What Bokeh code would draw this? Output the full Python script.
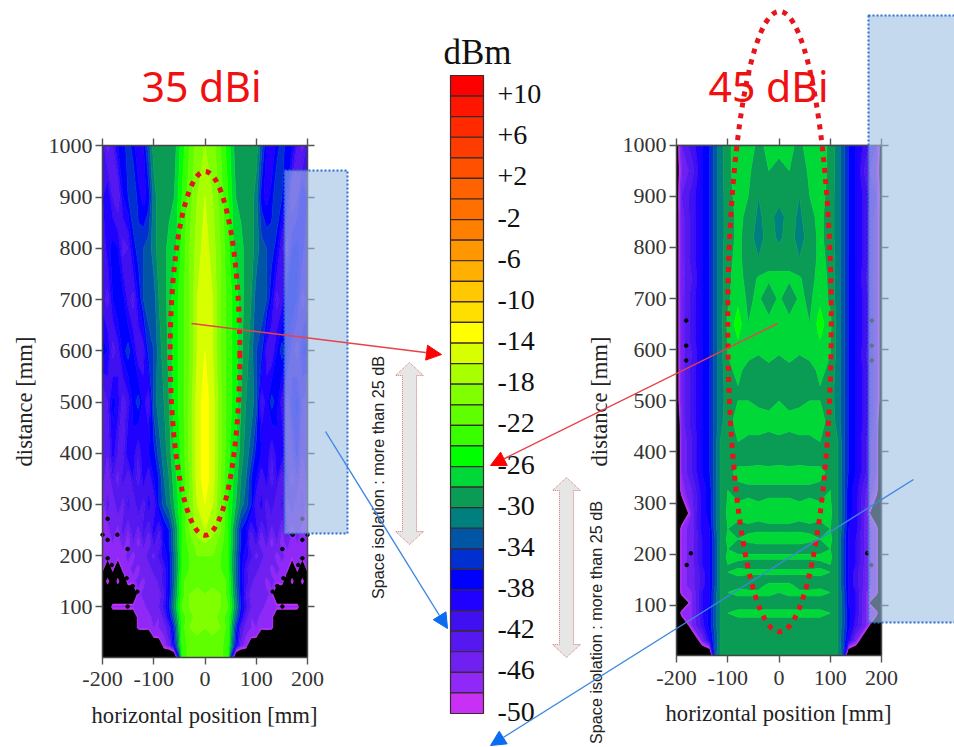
import numpy as np
from bokeh.core.properties import value
from bokeh.embed import file_html
from bokeh.models import (Arrow, ColumnDataSource, FixedTicker, LinearAxis, NormalHead, Range1d)
from bokeh.plotting import figure
from bokeh.plotting.contour import contour_data
from bokeh.resources import INLINE

# ---------- data ----------
level_edges = list(range(12, -52, -2))          # dBm, top to bottom of the colour bar
cell_colors = ["#ff0000", "#ff1600", "#ff2a00", "#ff3c00", "#ff5000", "#ff6200", "#ff7000", "#ff8000",
               "#ff9800", "#ffb000", "#ffc800", "#ffdf00", "#ffff00", "#d8ff00", "#a8ff00", "#80ff00",
               "#60ff00", "#38ff00", "#00ff00", "#00d838", "#0a9c55", "#007f7f", "#0055a5", "#0030d0",
               "#0000ff", "#2000ff", "#4010f0", "#5518f0", "#7020f0", "#9028f8", "#c830f5"]
bar_labels = ["+10", "+6", "+2", "-2", "-6", "-10", "-14", "-18", "-22", "-26", "-30", "-34", "-38", "-42", "-46", "-50"]
bar_label_levels = [10, 6, 2, -2, -6, -10, -14, -18, -22, -26, -30, -34, -38, -42, -46, -50]

x_ticks = [-200, -100, 0, 100, 200]
x_tick_labels = {-200: "-200", -100: "-100", 0: "0", 100: "100", 200: "200"}
y_ticks = [100, 200, 300, 400, 500, 600, 700, 800, 900, 1000]

left_x_half = [0, 15, 30, 45, 60, 70, 80, 90, 100, 110, 120, 130, 140, 150, 160, 170, 180, 190, 200]
left_y = [2, 25, 45, 60, 80, 100, 125, 150, 175, 200, 225, 250, 300, 350, 400, 500, 600, 700, 800, 900, 1000]
left_z = [
    [-20, -20, -21, -24, -60, -60, -60, -60, -60, -60, -60, -60, -60, -60, -60, -60, -60, -60, -60],
    [-21, -20, -21, -24, -37, -45, -47, -60, -60, -60, -60, -60, -60, -60, -60, -60, -60, -60, -60],
    [-20, -20, -21, -23, -36, -43, -46, -46, -47, -60, -60, -60, -60, -60, -60, -60, -60, -60, -60],
    [-20, -19, -20, -23, -35, -42, -45, -46, -46, -47, -46, -47, -60, -60, -60, -60, -60, -60, -60],
    [-19, -19, -21, -23, -32, -38, -43, -46, -45, -47, -46, -47, -60, -60, -60, -60, -60, -60, -60],
    [-20, -19, -20, -22, -30, -36, -41, -44, -46, -45, -47, -46, -47, -47, -47, -47, -47, -60, -60],
    [-20, -19, -20, -23, -31, -37, -42, -45, -44, -46, -45, -47, -60, -60, -60, -60, -60, -60, -60],
    [-20, -21, -20, -23, -32, -37, -41, -43, -46, -44, -47, -45, -47, -46, -60, -47, -60, -47, -60],
    [-21, -21, -22, -24, -32, -37, -41, -44, -42, -46, -44, -47, -45, -47, -46, -60, -47, -60, -47],
    [-20, -20, -22, -24, -32, -37, -39, -41, -45, -42, -46, -44, -47, -45, -47, -46, -47, -46, -47],
    [-18, -19, -21, -24, -31, -36, -38, -44, -41, -46, -43, -47, -44, -47, -45, -47, -46, -47, -46],
    [-16, -17, -20, -24, -31, -36, -38, -42, -39, -44, -41, -45, -42, -46, -43, -47, -44, -47, -46],
    [-14, -16, -20, -24, -28, -31, -33, -36, -42, -39, -43, -40, -44, -41, -45, -42, -46, -43, -47],
    [-13, -15, -20, -24, -27, -30, -32, -36, -38, -42, -39, -43, -40, -44, -41, -45, -42, -46, -43],
    [-13, -15, -19.5, -23.5, -26, -29, -31, -33, -37, -38, -38, -42, -39, -38, -43, -42, -39, -44, -42],
    [-13, -15, -19.5, -23, -25, -28, -30, -31, -33, -42, -39, -35, -37, -41, -43, -39, -37, -42, -44],
    [-14, -16, -20, -23, -25, -27.5, -29, -31, -34, -35, -41, -42, -38, -35, -37, -41, -43, -38, -37],
    [-15, -16, -20, -23, -25, -27, -29, -30, -33, -33, -34, -38, -43, -41, -37, -36, -38, -43, -41],
    [-15, -17, -20, -23.5, -27, -27, -29, -29, -31, -33, -34, -35, -37, -42, -43, -38, -37, -39, -42],
    [-16, -18, -21, -24, -28, -29, -29, -29, -31, -37, -39, -37, -34, -36, -38, -44, -42, -38, -40],
    [-18, -19, -22, -25, -29, -30, -29, -29, -29, -33, -38, -40, -37, -35, -37, -38, -42, -45, -41],
]
left_hole_x = [-190, -200, -190, -171, -151, -190, -182, -172, -163, -153, -141, -190, -179, -167, -154, -132, -151]
left_hole_y = [272, 241, 231, 241, 213, 195, 182, 172, 163, 156, 141, 161, 150, 142, 130, 130, 101]

right_x_half = [0, 20, 40, 60, 80, 100, 115, 125, 135, 150, 170, 190, 200]
right_y = [2, 30, 60, 85, 105, 125, 140, 150, 165, 180, 195, 210, 230, 250, 280, 325, 360, 395, 420, 460,
           500, 530, 560, 590, 620, 650, 700, 740, 780, 820, 860, 900, 950, 1000]
right_z = [
    [-29, -29, -29, -29, -29, -29, -30, -33, -60, -60, -60, -60, -60],
    [-29.5, -29.5, -29.5, -29.5, -29.5, -29.5, -30, -34, -39, -46, -60, -60, -60],
    [-29, -29, -29, -29, -29, -29, -30, -33, -37, -41, -46, -60, -60],
    [-27.5, -27.5, -27.5, -27.5, -27.5, -28, -30, -33, -37, -40, -46, -47, -60],
    [-29, -29, -29, -29, -29, -28.5, -30, -33, -38, -40, -46, -60, -60],
    [-28, -27.5, -27.5, -27.5, -27.5, -28, -30, -33, -38, -40, -46, -47, -60],
    [-27.5, -27.5, -29, -29, -28.5, -28, -30, -34, -38, -41, -45, -47, -60],
    [-29, -29, -29, -29, -28.5, -28.5, -30, -34, -38, -41, -45, -47, -60],
    [-27.5, -27.5, -27.5, -27.5, -27.5, -28, -30, -34, -38, -41, -45, -47, -60],
    [-29, -29, -29, -29, -28.5, -28, -30, -34, -38, -40, -45, -47, -60],
    [-27.5, -27.5, -27.5, -27.5, -27.5, -27.5, -30, -34, -38, -40, -45, -47, -60],
    [-29, -29, -29, -29, -29, -28, -30, -34, -38, -40, -45, -47, -60],
    [-27, -27, -27, -27.5, -28, -27.5, -30, -34, -38, -40, -45, -47, -60],
    [-28.5, -28.5, -28.5, -28.5, -28.5, -28, -30, -33, -38, -39, -45, -47, -60],
    [-27, -27, -27.5, -27, -27.5, -27.5, -30, -33, -37, -39, -45, -60, -60],
    [-28.5, -28.5, -28.5, -28.5, -28.5, -28, -30, -33, -37, -39, -44, -47, -60],
    [-27, -27, -27, -27, -27.5, -28.5, -30, -33, -36, -38, -42, -46, -60],
    [-29.5, -30, -29.5, -30, -29, -29, -30, -33, -36, -38, -42, -46, -60],
    [-28.5, -28.5, -28.5, -28.5, -28, -28.5, -30, -33, -36, -38, -42, -46, -60],
    [-27, -27.5, -27, -27, -27.5, -28.5, -31, -33, -36, -38, -41, -45, -60],
    [-28, -28.5, -28.5, -28, -28, -29, -31, -33, -36, -38, -41, -45, -54],
    [-29.5, -30, -29.5, -30, -28, -29, -31, -33, -36, -38, -41, -45, -54],
    [-29, -28.5, -29, -28.8, -27.5, -28.5, -31, -33, -36, -38, -41, -45, -54],
    [-28, -27.5, -28, -27.5, -27, -28, -31, -33, -36, -38, -42, -45, -54],
    [-26.8, -27, -27.5, -27.5, -26, -28, -31, -33, -36, -38, -41, -45, -54],
    [-26.5, -27, -27, -28, -25, -27.5, -31, -33, -36, -38, -41, -45, -54],
    [-27.5, -30, -27.5, -28.5, -26.5, -28.5, -31, -33, -36, -38, -41, -45, -54],
    [-27.5, -27.5, -27.8, -29, -27, -28.5, -31, -33, -36, -38, -42, -45, -54],
    [-29, -29, -30, -29, -27.5, -28.5, -31, -33, -36, -38, -41, -45, -54],
    [-30.5, -29, -31, -29, -27.5, -29, -31, -33, -36, -38, -41, -45, -54],
    [-31, -29, -30.5, -28.5, -27.5, -29, -31, -33, -36, -38, -41, -45, -54],
    [-29, -29, -30, -28, -27, -29, -31, -33, -36, -38, -41, -44, -54],
    [-28.5, -28, -29.5, -27.5, -27, -28.5, -31, -33, -36, -38, -43, -46, -54],
    [-27.5, -27.5, -28.5, -27, -27, -28.5, -31, -33, -36, -38, -41, -44, -54],
]
right_hole_x = [-181, -181, -181, -180, -172]
right_hole_y = [657, 608, 579, 179, 202]

# ---------- page layout (screen pixels) ----------
PAGE_X = (0, 954)
PAGE_Y = (747, 0)
LEFT_PANEL = dict(x=(102, 307), y=(656.7, 145.3), dx=(-200, 200), dy=(2, 1000))
RIGHT_PANEL = dict(x=(676, 881), y=(655, 144.7), dx=(-200, 200), dy=(2, 1000))


def page_range(lo_val, lo_px, hi_val, hi_px, page):
    k = (hi_val - lo_val) / (hi_px - lo_px)
    return Range1d(lo_val + (page[0] - lo_px) * k, lo_val + (page[1] - lo_px) * k)


p = figure(width=954, height=747, x_range=Range1d(*PAGE_X), y_range=Range1d(*PAGE_Y),
           x_axis_type=None, y_axis_type=None, toolbar_location=None, output_backend="svg",
           min_border=0, outline_line_color=None)
p.grid.visible = False

p.extra_x_ranges["lx"] = page_range(-200, LEFT_PANEL["x"][0], 200, LEFT_PANEL["x"][1], PAGE_X)
p.extra_y_ranges["ly"] = page_range(2, LEFT_PANEL["y"][0], 1000, LEFT_PANEL["y"][1], PAGE_Y)
p.extra_x_ranges["rx"] = page_range(-200, RIGHT_PANEL["x"][0], 200, RIGHT_PANEL["x"][1], PAGE_X)
p.extra_y_ranges["ry"] = page_range(2, RIGHT_PANEL["y"][0], 1000, RIGHT_PANEL["y"][1], PAGE_Y)
p.extra_y_ranges["bar"] = page_range(-50, 713, 12, 75, PAGE_Y)

edges_up = [-70] + sorted(level_edges)
colors_up = ["#000000"] + cell_colors[::-1]
lookup = dict(zip(edges_up[:-1], colors_up))


def draw_map(x_half, y_vals, z_rows, xn, yn):
    half = np.array(z_rows, dtype=float)
    z = np.hstack([half[:, :0:-1], half])
    xh = np.array(x_half, dtype=float)
    x = np.concatenate([-xh[:0:-1], xh])
    cd = contour_data(x, np.array(y_vals, dtype=float), z, edges_up)
    fd = cd.fill_data
    src = ColumnDataSource(dict(xs=list(fd.xs), ys=list(fd.ys),
                                c=[lookup[int(v)] for v in fd.lower_levels]))
    p.multi_polygons("xs", "ys", source=src, fill_color="c", line_color="c", line_width=0.6,
                     x_range_name=xn, y_range_name=yn)


draw_map(left_x_half, left_y, left_z, "lx", "ly")
draw_map(right_x_half, right_y, right_z, "rx", "ry")

for hx, hy, xn, yn in ((left_hole_x, left_hole_y, "lx", "ly"), (right_hole_x, right_hole_y, "rx", "ry")):
    xs = list(hx) + [-v for v in hx]
    ys = list(hy) * 2
    p.scatter(xs, ys, size=3.5, marker="circle", color="black", x_range_name=xn, y_range_name=yn)


def panel_axes(panel, xn, yn):
    common = dict(x_range_name=xn, y_range_name=yn, axis_line_color="#444444", axis_line_width=1.5,
                  major_tick_line_color="#555555", major_tick_line_width=1.4, minor_tick_line_color=None,
                  major_tick_in=0, major_tick_out=7, major_label_text_font="Liberation Serif",
                  major_label_text_font_size="22px")
    dx, dy = panel["dx"], panel["dy"]
    xt, yt = FixedTicker(ticks=x_ticks), FixedTicker(ticks=y_ticks)
    p.add_layout(LinearAxis(ticker=xt, fixed_location=dy[0], bounds=dx, major_label_overrides=x_tick_labels,
                            major_label_standoff=8, major_label_text_color="#333333", **common), "below")
    p.add_layout(LinearAxis(ticker=yt, fixed_location=dx[0], bounds=dy, major_label_standoff=3,
                            major_label_text_color="#333333", **common), "left")
    p.add_layout(LinearAxis(ticker=xt, fixed_location=dy[1], bounds=dx, major_label_text_color=None, **common), "above")
    p.add_layout(LinearAxis(ticker=yt, fixed_location=dx[1], bounds=dy, major_label_text_color=None, **common), "right")


panel_axes(LEFT_PANEL, "lx", "ly")
panel_axes(RIGHT_PANEL, "rx", "ry")

# colour bar
p.quad(left=450, right=483, top=level_edges[:-1], bottom=level_edges[1:], fill_color=cell_colors,
       line_color="#3a2a2a", line_width=1.2, y_range_name="bar")
p.text(x=497, y=bar_label_levels, text=bar_labels, y_range_name="bar", y_offset=-2,
       text_font=value("Liberation Serif"), text_font_size="28px", text_baseline="middle", text_color="#111111")

serif = value("Liberation Serif")
p.text(x=[477], y=[52], text=["dBm"], text_font=serif, text_font_size="35px", text_align="center",
       text_baseline="middle", text_color="#111111")
p.text(x=[201, 768], y=[85, 85], text=["35 dBi", "45 dBi"], text_font=value("Noto Sans"), text_font_size="41px",
       text_align="center", text_baseline="middle", text_color="#f01010")
p.text(x=[204, 778], y=[715, 713], text=["horizontal position [mm]"] * 2, text_font=serif, text_font_size="22.6px",
       text_align="center", text_baseline="middle", text_color="#222222")
p.text(x=[24, 599], y=[401, 401], text=["distance [mm]"] * 2, angle=np.pi / 2, text_font=serif,
       text_font_size="22.6px", text_align="center", text_baseline="middle", text_color="#222222")
p.text(x=[377, 595], y=[477, 622], text=["Space isolation : more than 25 dB"] * 2, angle=np.pi / 2,
       text_font=value("Liberation Sans"), text_font_size="16.2px", text_align="center", text_baseline="middle",
       text_color="#222222")

# translucent boxes
p.quad(left=[284, 868], right=[347, 960], top=[170, 15], bottom=[533, 622], fill_color="#9ec0e3",
       fill_alpha=0.6, line_color="#2f72d0", line_width=2, line_dash="2 2", level="overlay")

# dotted ellipses (mm)
p.ellipse(x=[0], y=[595], width=[136], height=[710], fill_color=None, line_color="#e8141c", line_width=5,
          line_dash="5 6", x_range_name="lx", y_range_name="ly", level="overlay")
p.ellipse(x=[1], y=[655], width=[202], height=[1213], fill_color=None, line_color="#e8141c", line_width=5,
          line_dash="5 6", x_range_name="rx", y_range_name="ry", level="overlay")


# grey double arrows
def double_arrow(cx, top, bottom):
    hw, sw, hh = 14, 7, 13
    return ([cx, cx + hw, cx + sw, cx + sw, cx + hw, cx, cx - hw, cx - sw, cx - sw, cx - hw],
            [top, top + hh, top + hh, bottom - hh, bottom - hh, bottom, bottom - hh, bottom - hh, top + hh, top + hh])


a1 = double_arrow(409, 362, 544)
a2 = double_arrow(566, 477, 657)
p.patches([a1[0], a2[0]], [a1[1], a2[1]], fill_color="#e6e6e6", line_color="#d87878", line_width=1, line_dash="1 1",
          level="overlay")

# callout arrows
for (x0, y0, x1, y1, lc, hc) in [(191, 323, 441, 354, "#e8424a", "#ff0000"), (777, 323, 490, 465, "#e8424a", "#ff0000"),
                                 (325, 431, 447, 628, "#3f86e0", "#0a6cf0"), (913, 479, 490, 745, "#3f86e0", "#0a6cf0")]:
    p.add_layout(Arrow(end=NormalHead(size=15, fill_color=hc, line_color=hc), x_start=x0, y_start=y0, x_end=x1, y_end=y1,
                       line_color=lc, line_width=1.4, level="overlay"))

open("out.html", "w").write(file_html(p, INLINE))
